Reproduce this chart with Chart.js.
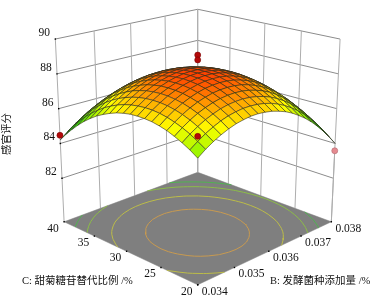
<!DOCTYPE html>
<html>
<head>
<meta charset="utf-8">
<title>感官评分响应面</title>
<style>
    html, body { margin: 0; padding: 0; background: #fff; }
    canvas { display: block; }
</style>
<script src="https://cdn.jsdelivr.net/npm/chart.js@4/dist/chart.umd.min.js"></script>
</head>
<body>
<canvas id="chart" width="373" height="302"></canvas>
<script>
// axis ticks
const bTicks = [0.034, 0.035, 0.036, 0.037, 0.038];
const cTicks = [20, 25, 30, 35, 40];
const zTicks = [82, 84, 86, 88, 90];
const bTickLabels = ['0.034', '0.035', '0.036', '0.037', '0.038'];
const cTickLabels = ['20', '25', '30', '35', '40'];
const zTickLabels = ['82', '84', '86', '88', '90'];

// 21 x 21 mesh: rows follow B (0.034 -> 0.038), columns follow C (20 -> 40)
const meshB = [0.034, 0.0342, 0.0344, 0.0346, 0.0348, 0.035, 0.0352, 0.0354, 0.0356, 0.0358, 0.036,
    0.0362, 0.0364, 0.0366, 0.0368, 0.037, 0.0372, 0.0374, 0.0376, 0.0378, 0.038];
const meshC = [20, 21, 22, 23, 24, 25, 26, 27, 28, 29, 30, 31, 32, 33, 34, 35, 36, 37, 38, 39, 40];
const surfaceZ = [
    [85.90, 86.18, 86.41, 86.61, 86.78, 86.90, 86.99, 87.03, 87.04, 87.02, 86.95, 86.85, 86.70, 86.52, 86.31, 86.05, 85.76, 85.42, 85.05, 84.65, 84.20],
    [86.21, 86.48, 86.73, 86.93, 87.09, 87.22, 87.31, 87.36, 87.37, 87.34, 87.28, 87.18, 87.04, 86.86, 86.65, 86.39, 86.10, 85.77, 85.41, 85.00, 84.56],
    [86.47, 86.75, 86.99, 87.20, 87.37, 87.50, 87.59, 87.64, 87.65, 87.63, 87.57, 87.47, 87.33, 87.16, 86.95, 86.70, 86.41, 86.08, 85.71, 85.31, 84.87],
    [86.69, 86.97, 87.22, 87.43, 87.60, 87.73, 87.82, 87.88, 87.90, 87.87, 87.82, 87.72, 87.59, 87.41, 87.20, 86.95, 86.67, 86.34, 85.98, 85.58, 85.14],
    [86.87, 87.16, 87.40, 87.61, 87.79, 87.92, 88.02, 88.07, 88.09, 88.08, 88.02, 87.93, 87.79, 87.62, 87.42, 87.17, 86.89, 86.56, 86.20, 85.81, 85.37],
    [87.01, 87.30, 87.55, 87.76, 87.93, 88.07, 88.17, 88.23, 88.25, 88.24, 88.18, 88.09, 87.96, 87.79, 87.59, 87.34, 87.06, 86.74, 86.39, 85.99, 85.56],
    [87.10, 87.39, 87.65, 87.86, 88.04, 88.18, 88.28, 88.34, 88.37, 88.35, 88.30, 88.21, 88.09, 87.92, 87.72, 87.48, 87.20, 86.88, 86.53, 86.13, 85.70],
    [87.16, 87.45, 87.70, 87.92, 88.10, 88.24, 88.35, 88.41, 88.44, 88.43, 88.38, 88.29, 88.17, 88.01, 87.81, 87.57, 87.29, 86.98, 86.62, 86.23, 85.81],
    [87.17, 87.46, 87.72, 87.94, 88.12, 88.27, 88.37, 88.44, 88.47, 88.46, 88.42, 88.33, 88.21, 88.05, 87.85, 87.62, 87.34, 87.03, 86.68, 86.29, 85.87],
    [87.13, 87.43, 87.69, 87.92, 88.10, 88.25, 88.36, 88.43, 88.46, 88.45, 88.41, 88.33, 88.21, 88.05, 87.86, 87.62, 87.35, 87.04, 86.69, 86.31, 85.88],
    [87.06, 87.36, 87.62, 87.85, 88.04, 88.19, 88.30, 88.37, 88.40, 88.40, 88.36, 88.28, 88.16, 88.01, 87.82, 87.59, 87.32, 87.01, 86.66, 86.28, 85.86],
    [86.94, 87.25, 87.51, 87.74, 87.93, 88.08, 88.20, 88.27, 88.31, 88.31, 88.27, 88.19, 88.08, 87.93, 87.74, 87.51, 87.24, 86.94, 86.59, 86.21, 85.79],
    [86.79, 87.09, 87.36, 87.59, 87.78, 87.94, 88.05, 88.13, 88.17, 88.17, 88.14, 88.06, 87.95, 87.80, 87.61, 87.39, 87.12, 86.82, 86.48, 86.10, 85.69],
    [86.59, 86.89, 87.16, 87.40, 87.59, 87.75, 87.87, 87.95, 87.99, 87.99, 87.96, 87.89, 87.78, 87.63, 87.45, 87.22, 86.96, 86.66, 86.32, 85.95, 85.54],
    [86.34, 86.65, 86.93, 87.16, 87.36, 87.52, 87.64, 87.72, 87.77, 87.77, 87.74, 87.67, 87.57, 87.42, 87.24, 87.02, 86.76, 86.46, 86.13, 85.75, 85.34],
    [86.06, 86.37, 86.65, 86.88, 87.08, 87.24, 87.37, 87.45, 87.50, 87.51, 87.48, 87.42, 87.31, 87.17, 86.99, 86.77, 86.51, 86.22, 85.89, 85.52, 85.11],
    [85.73, 86.05, 86.32, 86.56, 86.77, 86.93, 87.06, 87.14, 87.19, 87.21, 87.18, 87.12, 87.01, 86.87, 86.70, 86.48, 86.23, 85.93, 85.60, 85.24, 84.83],
    [85.36, 85.68, 85.96, 86.20, 86.41, 86.57, 86.70, 86.79, 86.85, 86.86, 86.84, 86.77, 86.68, 86.54, 86.36, 86.15, 85.90, 85.61, 85.28, 84.91, 84.51],
    [84.95, 85.27, 85.55, 85.80, 86.01, 86.18, 86.31, 86.40, 86.45, 86.47, 86.45, 86.39, 86.29, 86.16, 85.99, 85.78, 85.53, 85.24, 84.91, 84.55, 84.15],
    [84.50, 84.82, 85.11, 85.35, 85.56, 85.73, 85.87, 85.96, 86.02, 86.04, 86.02, 85.96, 85.87, 85.74, 85.57, 85.36, 85.11, 84.83, 84.51, 84.14, 83.75],
    [84.00, 84.33, 84.61, 84.86, 85.08, 85.25, 85.39, 85.48, 85.54, 85.57, 85.55, 85.50, 85.40, 85.27, 85.11, 84.90, 84.66, 84.37, 84.05, 83.70, 83.30]
];

// design points
const pointB = [0.034, 0.034, 0.036, 0.036, 0.038, 0.038];
const pointC = [40, 20, 30, 30, 20, 40];
const pointZ = [84.47, 87.0, 89.08, 88.8, 83.58, 84.0];
const pointAbove = [true, true, true, true, false, false];

// contour levels on the floor
const contourLevels = [87.85, 86.8, 85.7, 85.0];
const contourColors = ['#c89a50', '#bcbc48', '#8cbc48', '#50b450'];

const FLOOR_Z = 79.5;
const TOP_Z = 90;

// camera fitted to the box corners
function project(B, C, Z) {
    const b = (B - 0.036) / 0.002;
    const c = (C - 30) / 10;
    const s = (b - c) / 2;
    const t = (b + c) / 2;
    const w = 1 + 0.1207 * t;
    const h = Z - FLOOR_Z;
    return {
        x: 198 + 137 * s / w * (1 + 0.0655 * h / (TOP_Z - FLOOR_Z)),
        y: 224 - 57.16 * t / w - 17.95 * h / w
    };
}

function rampColor(z) {
    const stops = [
        [84.0, [0, 190, 40]],
        [85.3, [40, 235, 0]],
        [86.9, [255, 255, 0]],
        [88.5, [255, 60, 0]]
    ];
    if (z <= stops[0][0]) return `rgb(${stops[0][1].join(',')})`;
    for (let i = 1; i < stops.length; i++) {
        if (z <= stops[i][0]) {
            const f = (z - stops[i - 1][0]) / (stops[i][0] - stops[i - 1][0]);
            const rgb = stops[i][1].map((v, k) => Math.round(stops[i - 1][1][k] + (v - stops[i - 1][1][k]) * f));
            return `rgb(${rgb.join(',')})`;
        }
    }
    return 'rgb(255,60,0)';
}

function lineSet(data, color, width) {
    return { data, showLine: true, fill: false, borderColor: color, borderWidth: width, pointRadius: 0, tension: 0 };
}

function polygonSet(data, fillColor, lineColor, width) {
    return {
        data, showLine: true, fill: 'shape', backgroundColor: fillColor,
        borderColor: lineColor, borderWidth: width, pointRadius: 0, tension: 0
    };
}

function wallLines() {
    const sets = [];
    const bMin = bTicks[0], bMax = bTicks[4], cMin = cTicks[0], cMax = cTicks[4];
    zTicks.forEach(z => {
        sets.push(lineSet([project(bMin, cMax, z), project(bMax, cMax, z), project(bMax, cMin, z)], '#8c8c8c', 1));
    });
    bTicks.forEach(b => {
        sets.push(lineSet([project(b, cMax, FLOOR_Z), project(b, cMax, TOP_Z)], '#adadad', 1));
    });
    cTicks.forEach(c => {
        sets.push(lineSet([project(bMax, c, FLOOR_Z), project(bMax, c, TOP_Z)], '#adadad', 1));
    });
    return sets;
}

function floorSet() {
    const bMin = bTicks[0], bMax = bTicks[4], cMin = cTicks[0], cMax = cTicks[4];
    return polygonSet([
        project(bMin, cMax, FLOOR_Z), project(bMax, cMax, FLOOR_Z),
        project(bMax, cMin, FLOOR_Z), project(bMin, cMin, FLOOR_Z), project(bMin, cMax, FLOOR_Z)
    ], '#7f7f7f', '#7f7f7f', 0.5);
}

// marching squares over the mesh, drawn on the floor
function contourSets() {
    return contourLevels.map((level, n) => {
        const data = [];
        const cross = (i1, j1, i2, j2) => {
            const z1 = surfaceZ[i1][j1], z2 = surfaceZ[i2][j2];
            if ((z1 < level) === (z2 < level)) return null;
            const f = (level - z1) / (z2 - z1);
            return project(meshB[i1] + (meshB[i2] - meshB[i1]) * f, meshC[j1] + (meshC[j2] - meshC[j1]) * f, FLOOR_Z);
        };
        for (let i = 0; i < meshB.length - 1; i++) {
            for (let j = 0; j < meshC.length - 1; j++) {
                const hits = [cross(i, j, i + 1, j), cross(i + 1, j, i + 1, j + 1),
                    cross(i + 1, j + 1, i, j + 1), cross(i, j + 1, i, j)].filter(Boolean);
                for (let k = 0; k + 1 < hits.length; k += 2) {
                    data.push(hits[k], hits[k + 1], { x: NaN, y: NaN });
                }
            }
        }
        return lineSet(data, contourColors[n], 1);
    });
}

function surfaceSets() {
    const cells = [];
    for (let i = 0; i < meshB.length - 1; i++) {
        for (let j = 0; j < meshC.length - 1; j++) {
            const zs = [surfaceZ[i][j], surfaceZ[i + 1][j], surfaceZ[i + 1][j + 1], surfaceZ[i][j + 1]];
            const mean = (zs[0] + zs[1] + zs[2] + zs[3]) / 4;
            cells.push({
                depth: i + j,
                set: polygonSet([
                    project(meshB[i], meshC[j], zs[0]),
                    project(meshB[i + 1], meshC[j], zs[1]),
                    project(meshB[i + 1], meshC[j + 1], zs[2]),
                    project(meshB[i], meshC[j + 1], zs[3]),
                    project(meshB[i], meshC[j], zs[0])
                ], rampColor(mean), 'rgba(45,45,30,0.85)', 0.7)
            });
        }
    }
    // far cells first
    cells.sort((p, q) => q.depth - p.depth);
    return cells.map(cell => cell.set);
}

function designPointSet(indexes) {
    return {
        data: indexes.map(i => project(pointB[i], pointC[i], pointZ[i])),
        showLine: false,
        pointRadius: 3,
        pointBackgroundColor: indexes.map(i => pointAbove[i] ? '#b40a0a' : '#e58a90'),
        pointBorderColor: indexes.map(i => pointAbove[i] ? '#7a0000' : '#b06a70'),
        pointBorderWidth: 0.6
    };
}

function tickMarkSet() {
    const cMax = cTicks[4], bMin = bTicks[0];
    const data = [];
    zTicks.forEach(z => data.push(project(bMin, cMax, z)));
    cTicks.forEach(c => data.push(project(bMin, c, FLOOR_Z)));
    bTicks.forEach(b => data.push(project(b, cTicks[0], FLOOR_Z)));
    return { data, showLine: false, pointStyle: 'rect', pointRadius: 1, pointBackgroundColor: '#000', pointBorderWidth: 0 };
}

// paint order, back to front
const paintOrder = [
    ...wallLines(),
    floorSet(),
    ...contourSets(),
    lineSet([project(0.038, 40, FLOOR_Z), project(0.038, 40, 84.0)], '#adadad', 1),
    lineSet([project(0.038, 20, FLOOR_Z), project(0.038, 20, 83.58)], '#adadad', 1),
    designPointSet([5]),
    ...surfaceSets(),
    tickMarkSet(),
    designPointSet([0, 1, 2, 3, 4])
];
paintOrder.forEach((set, i) => { set.order = paintOrder.length - i; });

const axisText = {
    id: 'axisText',
    afterDraw(chart) {
        const { ctx, scales } = chart;
        const put = (text, point, dx, dy) => {
            ctx.fillText(text, scales.x.getPixelForValue(point.x) + dx, scales.y.getPixelForValue(point.y) + dy);
        };
        ctx.save();
        ctx.fillStyle = '#111';
        ctx.textAlign = 'center';
        ctx.textBaseline = 'middle';
        ctx.font = '11.5px "Liberation Serif", "Noto Sans CJK SC", serif';
        zTicks.forEach((z, i) => put(zTickLabels[i], project(0.034, 40, z), -11, -6));
        cTicks.forEach((c, i) => put(cTickLabels[i], project(0.034, c, FLOOR_Z), -11, 7));
        bTicks.forEach((b, i) => put(bTickLabels[i], project(b, 20, FLOOR_Z), 17, 7));

        ctx.font = '10.5px "Liberation Serif", "Noto Sans CJK SC", serif';
        ctx.textAlign = 'left';
        ctx.fillText('C: 甜菊糖苷替代比例 /%', 22, 281);
        ctx.fillText('B: 发酵菌种添加量 /%', 270, 281);

        ctx.translate(7, 134);
        ctx.rotate(-Math.PI / 2);
        ctx.textAlign = 'center';
        ctx.fillText('感官评分', 0, 0);
        ctx.restore();
    }
};

new Chart(document.getElementById('chart'), {
    type: 'scatter',
    data: { datasets: paintOrder },
    options: {
        responsive: false,
        animation: false,
        clip: false,
        layout: { padding: 0 },
        plugins: { legend: { display: false }, tooltip: { enabled: false } },
        scales: {
            x: { type: 'linear', min: 0, max: 373, display: false },
            y: { type: 'linear', min: 0, max: 302, reverse: true, display: false }
        }
    },
    plugins: [axisText]
});
</script>
</body>
</html>
